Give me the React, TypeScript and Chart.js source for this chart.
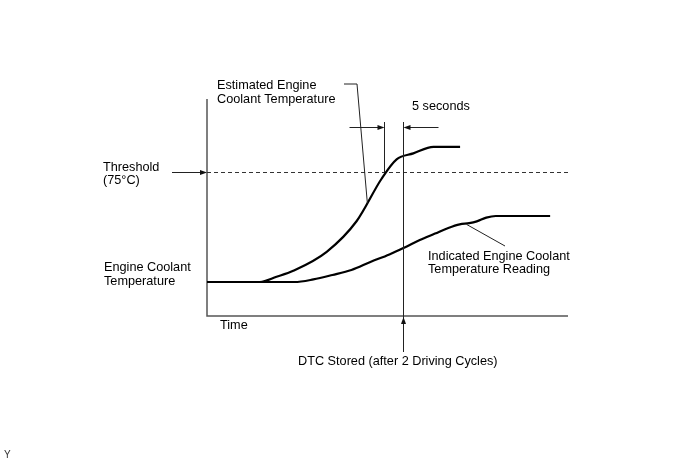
import React, { useEffect, useRef } from "react";
import { Chart, registerables } from "chart.js";

Chart.register(...registerables);

// Time (s) and temperature (°C) samples
const timeEst = [0, 13.9, 18.3, 22.7, 31.5, 39.4, 45.9, 49.9, 54.3, 59.6, 66.6];
const tempEst = [20, 20, 22.6, 25.6, 35.1, 50.5, 71.5, 81.3, 84.3, 87.6, 87.6];

const timeInd = [0, 23, 28, 33, 38, 43, 48, 52, 56, 60, 63.5, 66.5, 69, 71, 73.5, 76, 90.3];
const tempInd = [20, 20, 21.3, 23.5, 26, 30, 33.8, 37.3, 41, 44.2, 47, 48.8, 49.4, 50.3, 52.2, 53, 53];

const thresholdTemp = 75;
const thresholdTime = 46.6;
const delaySeconds = 5;
const xRange = [0, 95];
const yRange = [3, 111.5];

const labelThreshold = ["Threshold", "(75°C)"];
const labelEst = ["Estimated Engine", "Coolant Temperature"];
const labelInd = ["Indicated Engine Coolant", "Temperature Reading"];
const labelAxisY = ["Engine Coolant", "Temperature"];
const labelTime = "Time";
const labelDelay = "5 seconds";
const labelDtc = "DTC Stored (after 2 Driving Cycles)";
const labelCorner = "Y";

const FONT = '12.7px "Liberation Sans", Arial, sans-serif';

function arrowHead(ctx: CanvasRenderingContext2D, x: number, y: number, dx: number, dy: number) {
  const len = 7;
  const half = 2.5;
  const px = -dy;
  const py = dx;
  ctx.beginPath();
  ctx.moveTo(x, y);
  ctx.lineTo(x - dx * len + px * half, y - dy * len + py * half);
  ctx.lineTo(x - dx * len - px * half, y - dy * len - py * half);
  ctx.closePath();
  ctx.fill();
}

function line(ctx: CanvasRenderingContext2D, pts: number[][]) {
  ctx.beginPath();
  ctx.moveTo(pts[0][0], pts[0][1]);
  for (let i = 1; i < pts.length; i++) ctx.lineTo(pts[i][0], pts[i][1]);
  ctx.stroke();
}

const diagramPlugin = {
  id: "diagram",
  beforeDatasetsDraw(chart: any) {
    const { ctx, chartArea: a, scales } = chart;
    const ys = scales.y;
    ctx.save();
    ctx.strokeStyle = "#555";
    ctx.lineWidth = 1.5;
    line(ctx, [[a.left, a.top], [a.left, a.bottom], [a.right, a.bottom]]);
    const ty = Math.round(ys.getPixelForValue(thresholdTemp)) + 0.5;
    ctx.strokeStyle = "#333";
    ctx.lineWidth = 1;
    ctx.setLineDash([4, 3]);
    line(ctx, [[a.left, ty], [a.right + 2, ty]]);
    ctx.setLineDash([]);
    ctx.restore();
  },
  afterDatasetsDraw(chart: any) {
    const { ctx, chartArea: a, scales } = chart;
    const xs = scales.x;
    const ys = scales.y;
    ctx.save();
    ctx.strokeStyle = "#222";
    ctx.fillStyle = "#111";
    ctx.lineWidth = 1;

    const ty = Math.round(ys.getPixelForValue(thresholdTemp)) + 0.5;
    const x1 = Math.round(xs.getPixelForValue(thresholdTime)) + 0.5;
    const x2 = Math.round(xs.getPixelForValue(thresholdTime + delaySeconds)) + 0.5;
    const topY = a.top + 23;
    const arrY = a.top + 28.5;

    line(ctx, [[a.left - 35, ty], [a.left - 4, ty]]);
    arrowHead(ctx, a.left, ty, 1, 0);

    line(ctx, [[x1, topY], [x1, ty]]);
    line(ctx, [[x2, topY], [x2, a.bottom + 36]]);
    arrowHead(ctx, x2, a.bottom + 1, 0, -1);

    line(ctx, [[x1 - 35, arrY], [x1 - 4, arrY]]);
    arrowHead(ctx, x1, arrY, 1, 0);
    line(ctx, [[x2 + 35, arrY], [x2 + 4, arrY]]);
    arrowHead(ctx, x2, arrY, -1, 0);

    const ex = xs.getPixelForValue(42.2);
    const ey = ys.getPixelForValue(59.4);
    line(ctx, [[a.left + 137, a.top - 15], [a.left + 150, a.top - 15], [ex, ey]]);

    const ix = xs.getPixelForValue(68.3);
    const iy = ys.getPixelForValue(49.3);
    line(ctx, [[a.left + 298, a.top + 147], [ix, iy + 1]]);

    ctx.font = FONT;
    ctx.fillStyle = "#000";
    ctx.textBaseline = "alphabetic";
    ctx.textAlign = "left";
    ctx.fillText(labelEst[0], 217, 89);
    ctx.fillText(labelEst[1], 217, 103);
    ctx.fillText(labelThreshold[0], 103, 171);
    ctx.fillText(labelThreshold[1], 103, 184);
    ctx.fillText(labelDelay, 412, 110);
    ctx.fillText(labelAxisY[0], 104, 271);
    ctx.fillText(labelAxisY[1], 104, 285);
    ctx.fillText(labelTime, 220, 329);
    ctx.fillText(labelDtc, 298, 365);
    ctx.fillText(labelInd[0], 428, 260);
    ctx.fillText(labelInd[1], 428, 273);
    ctx.font = '10px "Liberation Sans", Arial, sans-serif';
    ctx.fillStyle = "#333";
    ctx.fillText(labelCorner, 4, 458);
    ctx.restore();
  },
};

export default function App() {
  const ref = useRef<HTMLCanvasElement | null>(null);
  useEffect(() => {
    if (!ref.current) return;
    const chart = new Chart(ref.current, {
      type: "scatter",
      data: {
        datasets: [
          {
            label: "Estimated Engine Coolant Temperature",
            data: timeEst.map((t, i) => ({ x: t, y: tempEst[i] })),
            showLine: true,
            borderColor: "#000",
            borderWidth: 2.2,
            pointRadius: 0,
            cubicInterpolationMode: "monotone",
            clip: false,
          },
          {
            label: "Indicated Engine Coolant Temperature Reading",
            data: timeInd.map((t, i) => ({ x: t, y: tempInd[i] })),
            showLine: true,
            borderColor: "#000",
            borderWidth: 2.2,
            pointRadius: 0,
            cubicInterpolationMode: "monotone",
            clip: false,
          },
        ],
      },
      options: {
        responsive: false,
        animation: false,
        devicePixelRatio: 1,
        layout: { padding: { left: 207, right: 120, top: 99, bottom: 147 } },
        scales: {
          x: { type: "linear", min: xRange[0], max: xRange[1], display: false },
          y: { type: "linear", min: yRange[0], max: yRange[1], display: false },
        },
        plugins: { legend: { display: false }, tooltip: { enabled: false } },
      },
      plugins: [diagramPlugin],
    } as any);
    return () => chart.destroy();
  }, []);
  return (
    <div style={{ position: "fixed", left: 0, top: 0, width: 688, height: 463, background: "#fff" }}>
      <canvas ref={ref} width={688} height={463} style={{ display: "block" }} />
    </div>
  );
}
